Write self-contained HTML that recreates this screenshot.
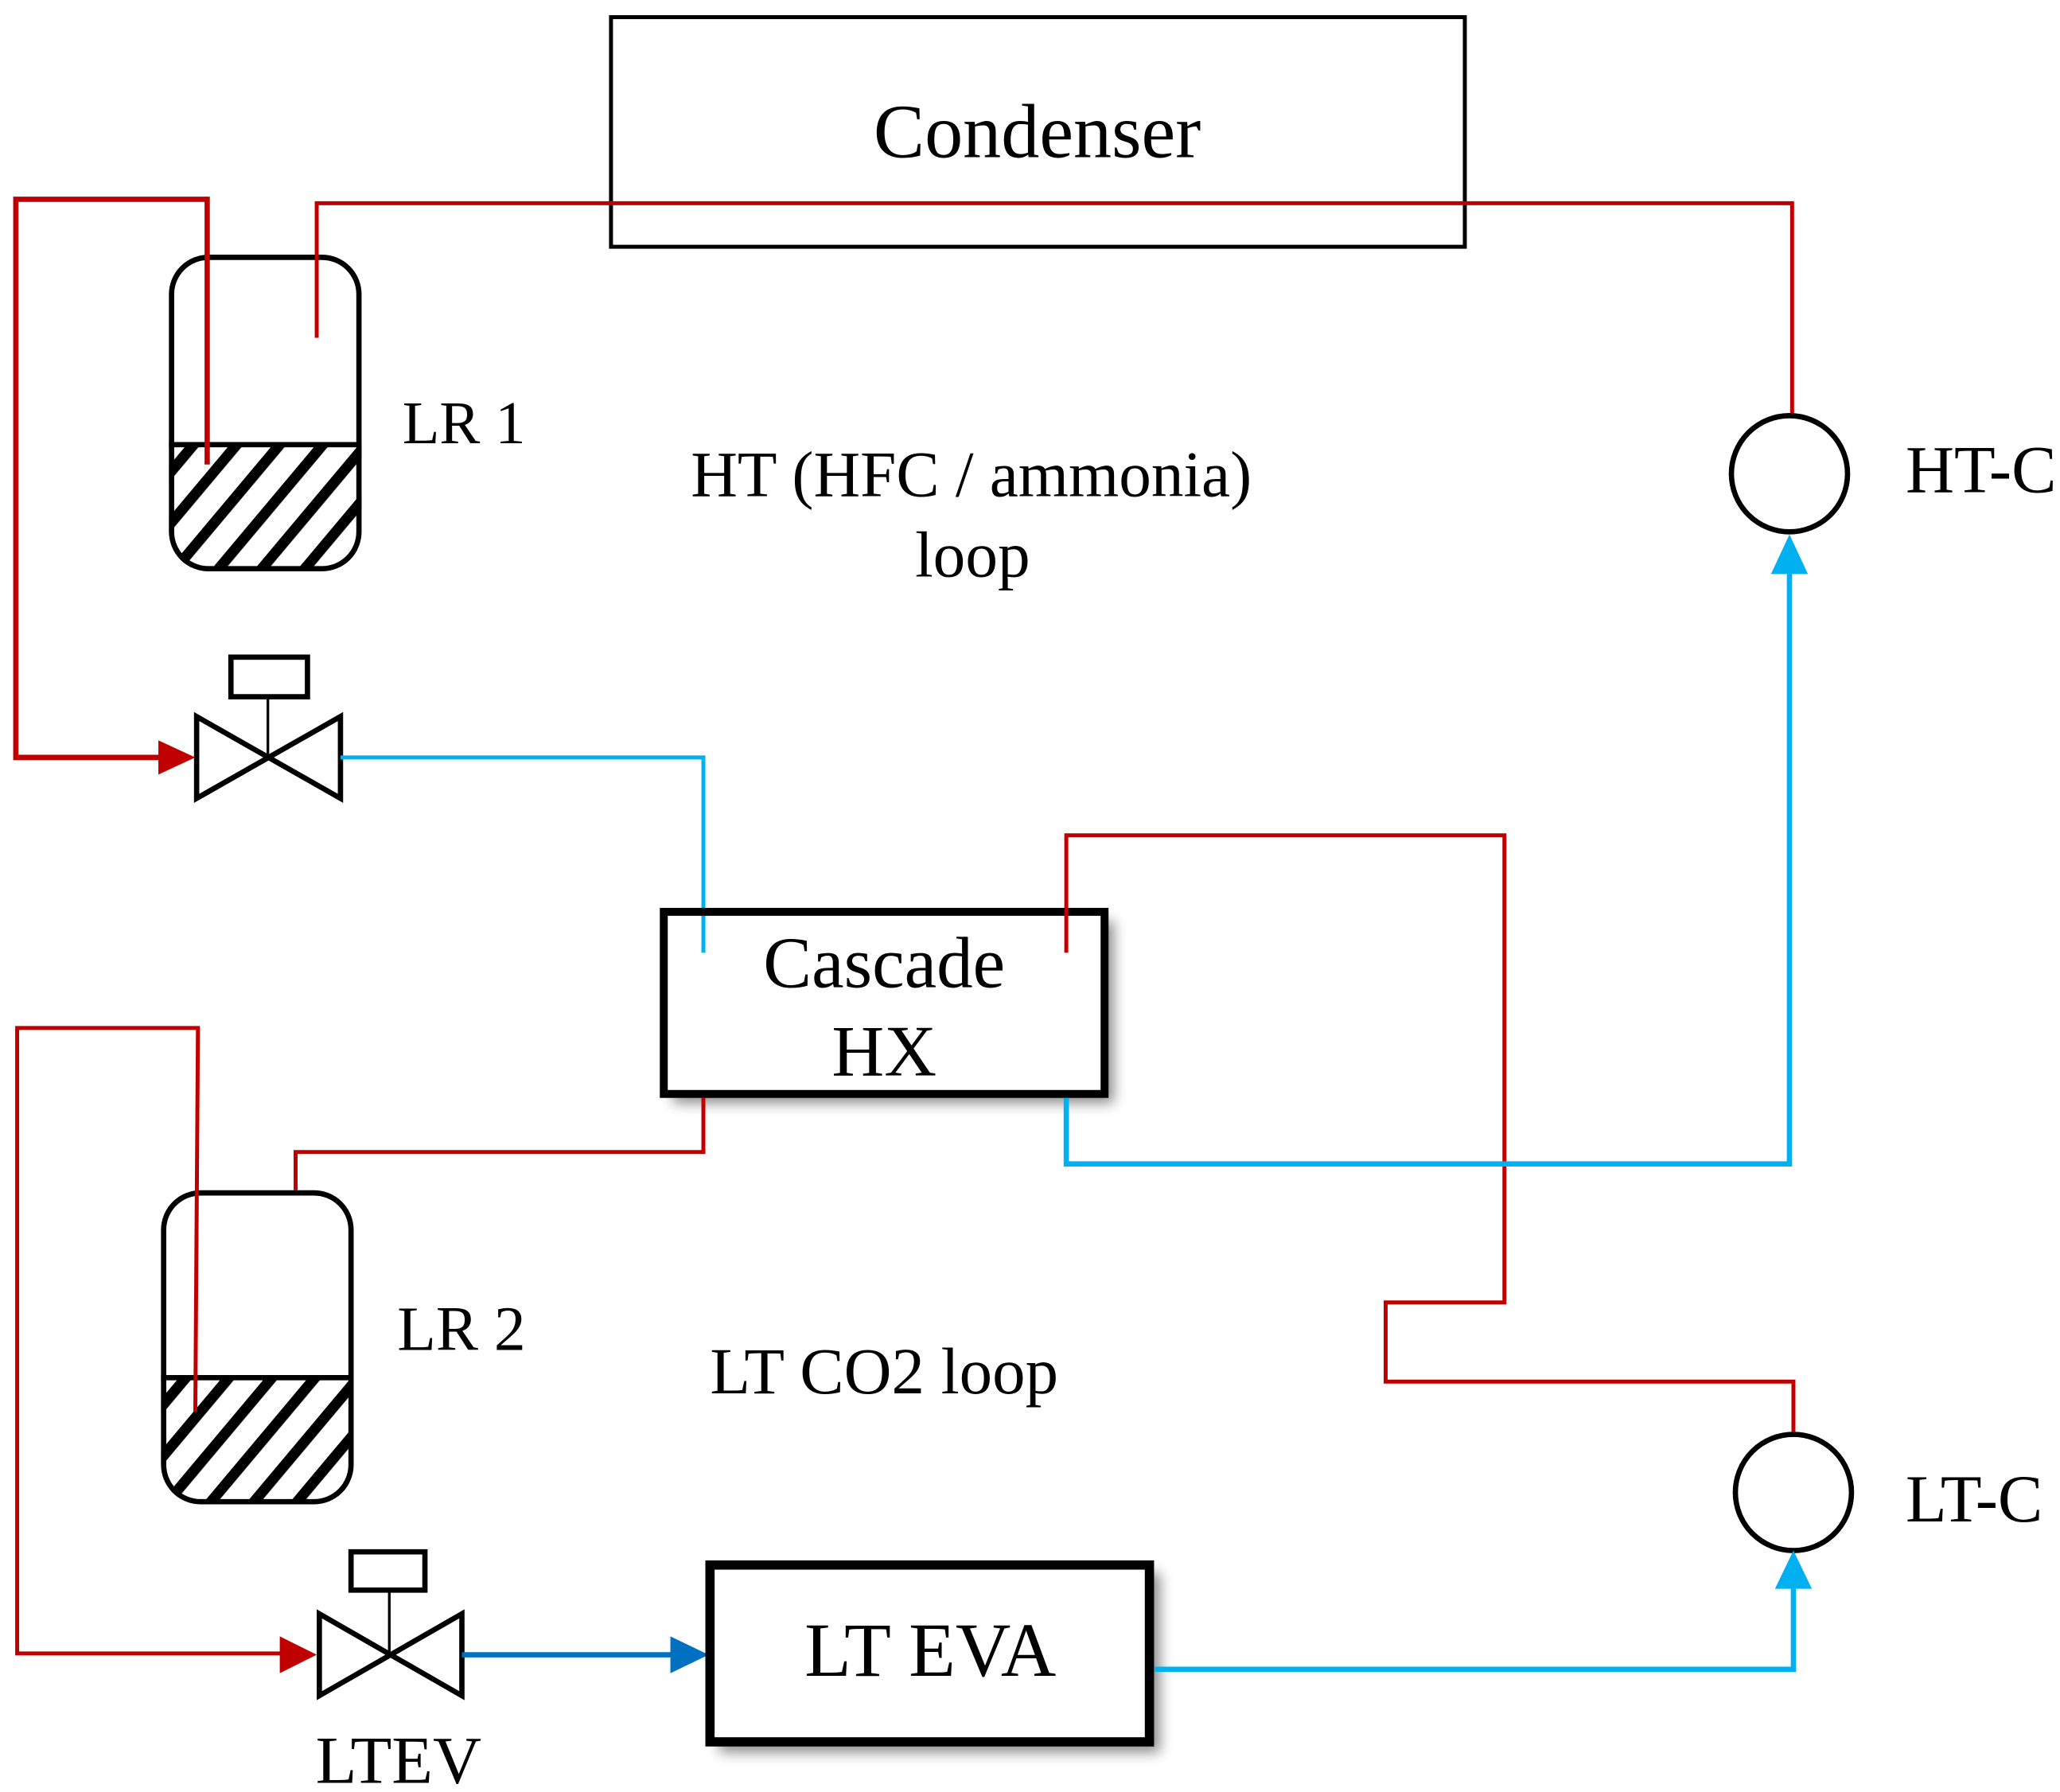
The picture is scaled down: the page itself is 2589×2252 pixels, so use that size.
<!DOCTYPE html>
<html><head><meta charset="utf-8"><style>html,body{margin:0;padding:0;background:#fff}svg{display:block}</style></head>
<body>
<svg width="2589" height="2252" viewBox="0 0 1561 1358" preserveAspectRatio="none" xmlns="http://www.w3.org/2000/svg">
<defs>
<pattern id="h" width="25" height="25" patternUnits="userSpaceOnUse" patternTransform="rotate(40)">
<rect width="25" height="25" fill="#fff"/><rect x="0" y="0" width="8" height="25" fill="#000"/>
</pattern>
<filter id="sh" x="-10%" y="-10%" width="130%" height="130%"><feGaussianBlur stdDeviation="5"/></filter>
<clipPath id="c1"><rect x="128" y="193" width="146" height="240" rx="30"/></clipPath>
<clipPath id="c2"><rect x="122" y="902" width="146" height="238" rx="30"/></clipPath>
</defs>
<g font-family="'Liberation Serif',serif" fill="#000">
<rect x="463" y="13" width="647" height="174" fill="none" stroke="#000" stroke-width="3"/>
<text x="786" y="119" font-size="58" text-anchor="middle">Condenser</text>

<g clip-path="url(#c1)"><rect x="128" y="337" width="146" height="100" fill="url(#h)"/></g>
<rect x="130" y="195" width="142" height="236" rx="28" fill="none" stroke="#000" stroke-width="4"/>
<line x1="128" y1="337" x2="274" y2="337" stroke="#000" stroke-width="4"/>
<text x="305" y="336" font-size="46">LR 1</text>
<text x="736" y="376" font-size="49" text-anchor="middle">HT (HFC / ammonia)</text>
<text x="737" y="437" font-size="49" text-anchor="middle">loop</text>

<polyline points="240,256 240,154 1358,154 1358,316" fill="none" stroke="#c00000" stroke-width="3"/>
<polyline points="157,352 157,151 12,151 12,574 124,574" fill="none" stroke="#c00000" stroke-width="4"/>
<polygon points="120,561 148,574 120,587" fill="#c00000"/>

<circle cx="1356" cy="359" r="44" fill="none" stroke="#000" stroke-width="4"/>
<text x="1444" y="373" font-size="51">HT-C</text>

<rect x="175" y="498" width="58" height="30" fill="none" stroke="#000" stroke-width="4"/>
<line x1="203" y1="528" x2="203" y2="574" stroke="#000" stroke-width="2"/>
<polygon points="149,543 258,605 258,543 149,605" fill="none" stroke="#000" stroke-width="4"/>

<polyline points="258,574 533,574 533,722" fill="none" stroke="#00b0f0" stroke-width="3"/>

<rect x="510" y="698" width="334" height="138" fill="#000" opacity="0.45" filter="url(#sh)"/>
<rect x="503" y="691" width="334" height="138" fill="#fff" stroke="#000" stroke-width="6"/>
<text x="670" y="748" font-size="55" text-anchor="middle">Cascade</text>
<text x="670" y="815" font-size="55" text-anchor="middle">HX</text>
<line x1="533" y1="694" x2="533" y2="722" stroke="#00b0f0" stroke-width="3"/>
<polyline points="808,722 808,633 1140,633 1140,987 1050,987 1050,1047 1359,1047 1359,1085" fill="none" stroke="#c00000" stroke-width="3"/>
<polyline points="808,832 808,882 1356,882 1356,432" fill="none" stroke="#00b0f0" stroke-width="4"/>
<polygon points="1342,435 1356,405 1370,435" fill="#00b0f0"/>
<polyline points="533,832 533,873 224,873 224,902" fill="none" stroke="#c00000" stroke-width="3"/>

<g clip-path="url(#c2)"><rect x="122" y="1044" width="146" height="100" fill="url(#h)"/></g>
<rect x="124" y="904" width="142" height="234" rx="28" fill="none" stroke="#000" stroke-width="4"/>
<line x1="122" y1="1044" x2="268" y2="1044" stroke="#000" stroke-width="4"/>
<polyline points="148,1070 150,779 13,779 13,1253 214,1253" fill="none" stroke="#c00000" stroke-width="3"/>
<polygon points="212,1240 240,1254 212,1268" fill="#c00000"/>
<text x="301" y="1023" font-size="48">LR 2</text>
<text x="670" y="1056" font-size="50" text-anchor="middle">LT CO2 loop</text>

<circle cx="1359" cy="1131" r="44" fill="none" stroke="#000" stroke-width="4"/>
<text x="1444" y="1153" font-size="51">LT-C</text>

<rect x="266" y="1176" width="56" height="29" fill="none" stroke="#000" stroke-width="4"/>
<line x1="295" y1="1205" x2="295" y2="1254" stroke="#000" stroke-width="2"/>
<polygon points="242,1223 350,1285 350,1223 242,1285" fill="none" stroke="#000" stroke-width="4"/>
<text x="302" y="1351" font-size="51" text-anchor="middle">LTEV</text>

<line x1="350" y1="1254" x2="512" y2="1254" stroke="#0070c0" stroke-width="4"/>
<polygon points="508,1240 537,1254 508,1268" fill="#0070c0"/>

<rect x="545" y="1192" width="334" height="136" fill="#000" opacity="0.45" filter="url(#sh)"/>
<rect x="538" y="1186" width="333" height="134" fill="#fff" stroke="#000" stroke-width="7"/>
<text x="705" y="1270" font-size="58" text-anchor="middle">LT EVA</text>

<polyline points="875,1265 1359,1265 1359,1204" fill="none" stroke="#00b0f0" stroke-width="4"/>
<polygon points="1345,1204 1359,1175 1373,1204" fill="#00b0f0"/>
</g>
</svg>
</body></html>
